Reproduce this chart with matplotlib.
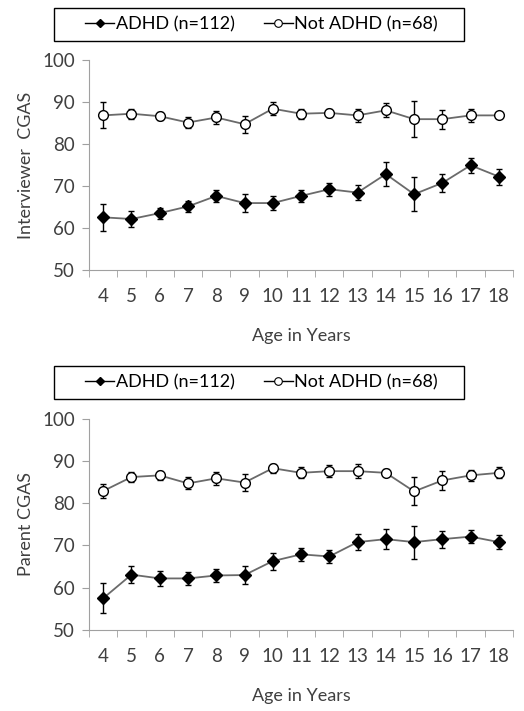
import matplotlib.pyplot as plt
from matplotlib.lines import Line2D
from matplotlib.patches import Rectangle
import numpy as np

plt.rcParams['font.family'] = ['Lato', 'DejaVu Sans']

ages = [4, 5, 6, 7, 8, 9, 10, 11, 12, 13, 14, 15, 16, 17, 18]

# Interviewer CGAS
int_adhd = [62.6, 62.2, 63.6, 65.2, 67.7, 66.0, 66.0, 67.7, 69.3, 68.5, 72.9, 68.1, 70.8, 75.0, 72.3]
int_adhd_err = [3.2, 1.8, 1.3, 1.4, 1.4, 2.2, 1.7, 1.5, 1.6, 1.7, 2.8, 4.1, 2.1, 1.8, 1.9]
int_not = [86.9, 87.3, 86.7, 85.2, 86.4, 84.8, 88.5, 87.3, 87.5, 86.9, 88.1, 86.0, 86.0, 86.9, 86.9]
int_not_err = [3.1, 1.2, 1.0, 1.4, 1.5, 2.0, 1.5, 1.2, 1.0, 1.6, 1.7, 4.3, 2.3, 1.5, 0.0]

# Parent CGAS
par_adhd = [57.5, 63.1, 62.2, 62.2, 62.9, 63.0, 66.3, 67.9, 67.4, 70.8, 71.5, 70.8, 71.5, 72.1, 70.8]
par_adhd_err = [3.6, 2.1, 1.7, 1.6, 1.5, 2.2, 2.0, 1.6, 1.6, 1.9, 2.4, 3.9, 2.0, 1.5, 1.6]
par_not = [82.9, 86.2, 86.6, 84.7, 85.9, 84.9, 88.3, 87.2, 87.6, 87.6, 87.2, 82.8, 85.4, 86.6, 87.2]
par_not_err = [1.6, 1.2, 1.0, 1.4, 1.5, 2.0, 1.1, 1.3, 1.5, 1.6, 0.8, 3.3, 2.3, 1.3, 1.3]

TEXT = '#404040'
SPINE = '#a0a0a0'
LINE = '#6a6a6a'

fig = plt.figure(figsize=(5.24, 7.11), dpi=100)
ax1 = fig.add_axes([0.170, 0.620, 0.809, 0.295])
ax2 = fig.add_axes([0.170, 0.114, 0.809, 0.297])


def draw(ax, adhd, adhd_err, notadhd, not_err, ylabel):
    ax.errorbar(ages, adhd, yerr=adhd_err, color=LINE, lw=1.3, marker='D',
                ms=6, mfc='black', mec='black', ecolor='black', elinewidth=1,
                capsize=2.5, capthick=1)
    ax.errorbar(ages, notadhd, yerr=not_err, color=LINE, lw=1.3, marker='o',
                ms=7, mfc='white', mec='black', mew=1, ecolor='black',
                elinewidth=1, capsize=2.5, capthick=1)
    ax.set_xlim(3.5, 18.5)
    ax.set_ylim(50, 100)
    ax.set_yticks([50, 60, 70, 80, 90, 100])
    ax.set_xticks(ages)
    ax.set_xticks(np.arange(3.5, 19, 1), minor=True)
    ax.tick_params(axis='x', which='major', length=0, pad=13, labelsize=13.5,
                   colors=TEXT)
    ax.tick_params(axis='x', which='minor', length=5, color=SPINE)
    ax.tick_params(axis='y', length=5, color=SPINE, pad=5, labelsize=13.5,
                   labelcolor=TEXT)
    for s in ['top', 'right']:
        ax.spines[s].set_visible(False)
    for s in ['left', 'bottom']:
        ax.spines[s].set_color(SPINE)
    ax.set_xlabel('Age in Years', fontsize=13, color=TEXT, labelpad=16.5)
    ax.set_ylabel(ylabel, fontsize=13, color=TEXT, labelpad=6)

    # legend without its own frame, box drawn separately
    handles = [
        Line2D([], [], color='black', lw=1, marker='D', ms=4.5, mfc='black',
               mec='black'),
        Line2D([], [], color='black', lw=1, marker='o', ms=5.5, mfc='white',
               mec='black', mew=0.8),
    ]
    ax.legend(handles, ['ADHD (n=112)', 'Not ADHD (n=68)'],
              loc='center', bbox_to_anchor=(0.407, 1.172), ncol=2,
              fontsize=13, frameon=False, handlelength=1.6,
              handletextpad=0.1, columnspacing=1.6, borderpad=0,
              borderaxespad=0)
    ax.add_patch(Rectangle((-0.083, 1.095), 0.967, 0.155,
                           transform=ax.transAxes, fill=False,
                           edgecolor='black', lw=1, clip_on=False))


draw(ax1, int_adhd, int_adhd_err, int_not, int_not_err, 'Interviewer  CGAS')
draw(ax2, par_adhd, par_adhd_err, par_not, par_not_err, 'Parent CGAS')

fig.savefig('out.png', dpi=100)
